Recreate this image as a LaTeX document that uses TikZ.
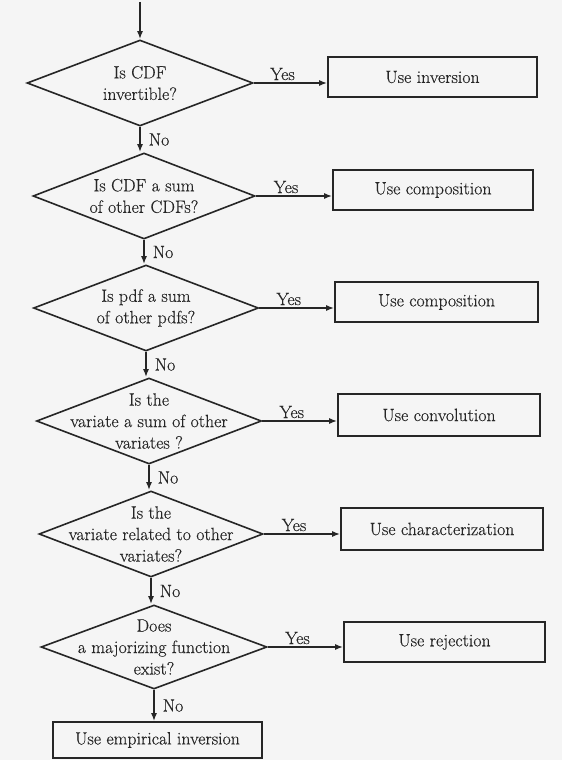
\documentclass[tikz,border=0pt]{standalone}
\usepackage{fontspec}
\setmainfont{Latin Modern Roman}[FakeBold=0.3]
\usetikzlibrary{shapes.geometric,arrows.meta}
\begin{document}
\begin{tikzpicture}[x=1pt,y=-1pt,
  ink/.style={draw=black!85,line width=1.6pt},
  txt/.style={text=black!85,font=\fontsize{17.8}{21.5}\selectfont},
  decision/.style={ink,shape=diamond,inner sep=0pt},
  qtext/.style={txt,inner sep=0pt,align=center},
  action/.style={ink,txt,rectangle,inner sep=0pt,align=center},
  flow/.style={ink,-{Latex[length=8pt,width=6pt]}},
  lab/.style={txt,inner sep=1pt}]
\fill[white!96!black] (0,0) rectangle (562,760);
\useasboundingbox (0,0) rectangle (562,760);
% decisions (outline) and their questions
\node[decision,minimum width=226pt,minimum height=86pt] (d1) at (140,83) {};
\node[decision,minimum width=222pt,minimum height=86pt] (d2) at (144,196) {};
\node[decision,minimum width=225pt,minimum height=86pt] (d3) at (146,308) {};
\node[decision,minimum width=225pt,minimum height=86pt] (d4) at (149,421) {};
\node[decision,minimum width=224pt,minimum height=86pt] (d5) at (151,534) {};
\node[decision,minimum width=226pt,minimum height=84pt] (d6) at (154,647) {};
\node[qtext] (q1) at (d1) {Is CDF\\invertible?};
\node[qtext] (q2) at (d2) {Is CDF a sum\\of other CDFs?};
\node[qtext] (q3) at (d3) {Is pdf a sum\\of other pdfs?};
\node[qtext] (q4) at (d4) {Is the\\variate a sum of other\\variates ?};
\node[qtext] (q5) at (d5) {Is the\\variate related to other\\variates?};
\node[qtext] (q6) at (d6) {Does\\a majorizing function\\exist?};
% actions
\node[action,minimum width=209pt,minimum height=40pt] (b1) at (432.5,77) {Use inversion};
\node[action,minimum width=200pt,minimum height=40pt] (b2) at (433,190) {Use composition};
\node[action,minimum width=203pt,minimum height=40pt] (b3) at (436.5,302) {Use composition};
\node[action,minimum width=202pt,minimum height=42pt] (b4) at (439,415) {Use convolution};
\node[action,minimum width=202pt,minimum height=42pt] (b5) at (442,529) {Use characterization};
\node[action,minimum width=201pt,minimum height=40pt] (b6) at (444.5,642) {Use rejection};
\node[action,minimum width=209pt,minimum height=36pt] (b7) at (157.5,740) {Use empirical inversion};
% entry
\coordinate (start) at (140,2);
\draw[flow] (start) -- (d1.north);
% yes branches
\foreach \i in {1,...,6}{
  \draw[flow] (d\i.east) -- (d\i.east -| b\i.west)
    node[lab,midway,above=1pt,xshift=-8pt] {Yes};
}
% no branches
\draw[flow] (d1.south) -- (d1.south |- d2.north) node[lab,midway,right=7pt] {No};
\draw[flow] (d2.south) -- (d2.south |- d3.north) node[lab,midway,right=7pt] {No};
\draw[flow] (d3.south) -- (d3.south |- d4.north) node[lab,midway,right=7pt] {No};
\draw[flow] (d4.south) -- (d4.south |- d5.north) node[lab,midway,right=7pt] {No};
\draw[flow] (d5.south) -- (d5.south |- d6.north) node[lab,midway,right=7pt] {No};
\draw[flow] (d6.south) -- (d6.south |- b7.north) node[lab,midway,right=7pt] {No};
\end{tikzpicture}
\end{document}
